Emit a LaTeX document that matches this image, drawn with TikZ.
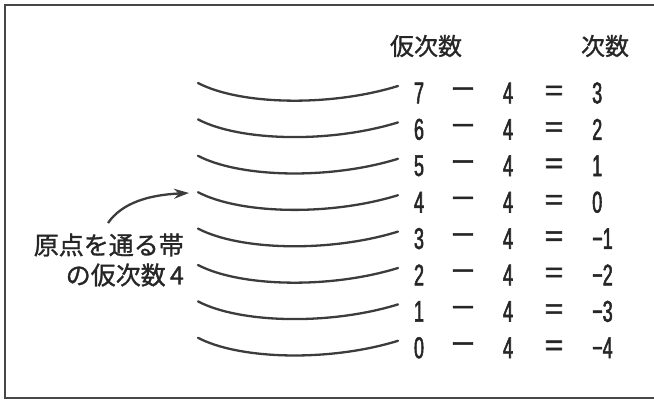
\documentclass[tikz,border=0pt]{standalone}
\usepackage{fontspec}
\usepackage{graphicx}
\setmainfont{Liberation Sans}
\newfontfamily\jpfont[FakeBold=1.2]{Noto Sans CJK JP}
\newfontfamily\numfont[FakeStretch=0.6,FakeBold=1.8]{Liberation Sans}
\newfontfamily\opfont[FakeBold=1.8]{Liberation Sans}
\usetikzlibrary{arrows.meta}
\definecolor{ink}{HTML}{262626}
\tikzset{
  band/.style={draw=ink!90, line width=2.3pt, line cap=round},
  frameline/.style={draw=ink!85, line width=2pt},
  head/.style={inner sep=0pt, text=ink, font=\jpfont\fontsize{24}{24}\selectfont},
  lbl/.style={inner sep=0pt, text=ink, align=right, font=\jpfont\fontsize{25}{30}\selectfont},
  num/.style={inner sep=0pt, text=ink, font=\numfont\fontsize{30}{30}\selectfont},
  op/.style={inner sep=0pt, text=ink, font=\opfont\fontsize{29}{29}\selectfont},
  arr/.style={draw=ink!90, line width=2.3pt, -{Stealth[length=15pt,width=10pt]}}
}
\begin{document}
\begin{tikzpicture}[x=1pt,y=-1pt]
\useasboundingbox (0,0) rectangle (654,403);
\draw[frameline] (654,5) -- (5,5) -- (5,398) -- (654,398);
\node[head] (h1) at (426,46) {仮次数};
\node[head] (h2) at (605,46) {次数};
\foreach \n/\r [count=\i from 0] in {7/3,6/2,5/1,4/0,3/{−1},2/{−2},1/{−3},0/{−4}}{
  \pgfmathsetmacro\yy{93+\i*36.4}
  \node[num] (n\n) at (419,\yy) {\n};
  \node[op] (m\n) at (463,\yy) {\scalebox{1.4}[1]{−}};
  \node[num] (f\n) at (508,\yy) {4};
  \node[op] (e\n) at (554,\yy) {\scalebox{1.1}[1]{=}};
  \node[num, anchor=west] (r\n) at (592,\yy) {\r};
  \draw[band] (198,\yy-10) .. controls (240,\yy+12) and (330,\yy+14) .. (398,\yy-7);
}
\node[lbl, anchor=east] (lab) at (184,260) {原点を通る帯\\の仮次数\,4};
\coordinate (as) at (108,223);
\coordinate (ae) at (189,193);
\draw[arr] (as) .. controls (122,203) and (148,195) .. (ae);
\end{tikzpicture}
\end{document}
